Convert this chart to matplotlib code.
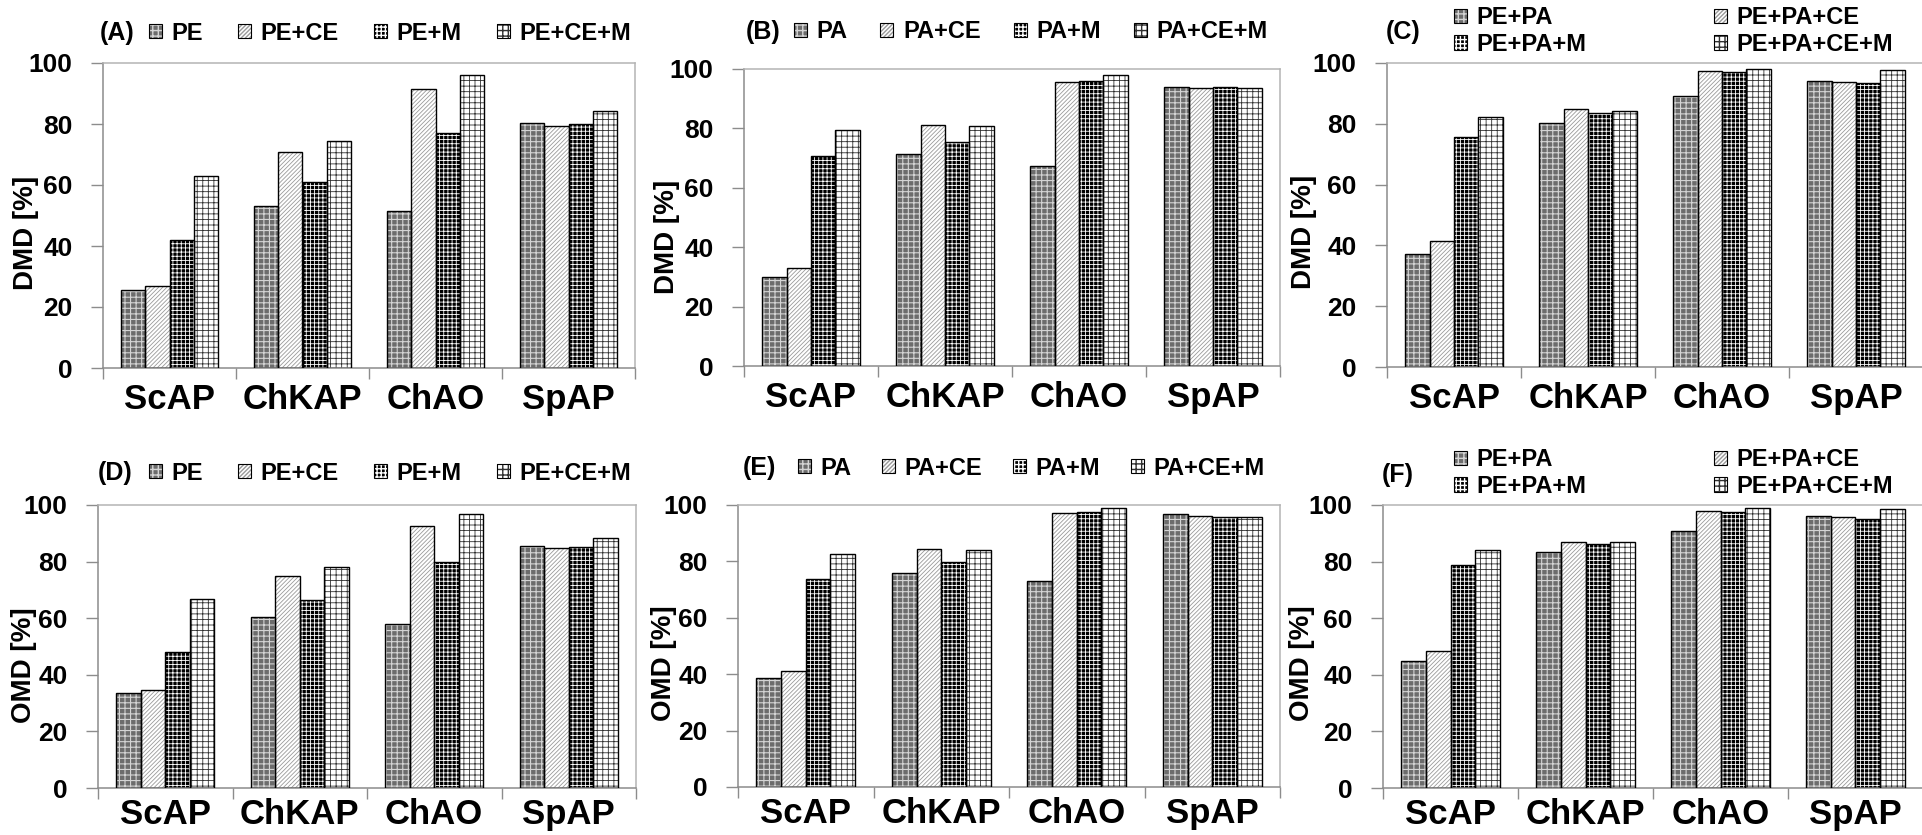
import numpy as np
import matplotlib
matplotlib.use('Agg')
import matplotlib.pyplot as plt
from matplotlib.patches import Rectangle

# ---- data ----
categories = ['ScAP', 'ChKAP', 'ChAO', 'SpAP']

names_pe = ['PE', 'PE+CE', 'PE+M', 'PE+CE+M']
names_pa = ['PA', 'PA+CE', 'PA+M', 'PA+CE+M']
names_pepa = ['PE+PA', 'PE+PA+CE', 'PE+PA+M', 'PE+PA+CE+M']

# one row per series, one column per category
dmd_pe = [[25.6, 53.1, 51.6, 80.3],
          [26.9, 70.7, 91.5, 79.3],
          [42.0, 61.1, 76.9, 79.9],
          [63.0, 74.3, 96.0, 84.2]]
dmd_pa = [[30.0, 71.3, 67.2, 94.0],
          [33.0, 81.2, 95.5, 93.5],
          [70.6, 75.3, 96.1, 93.8],
          [79.6, 80.9, 98.1, 93.5]]
dmd_pepa = [[37.1, 80.2, 89.1, 94.2],
            [41.3, 84.8, 97.4, 93.6],
            [75.6, 83.5, 96.9, 93.4],
            [82.4, 84.1, 98.0, 97.7]]
omd_pe = [[33.6, 60.3, 57.8, 85.4],
          [34.8, 75.0, 92.7, 84.7],
          [48.1, 66.6, 80.0, 85.1],
          [66.8, 78.1, 96.7, 88.4]]
omd_pa = [[38.8, 76.0, 72.9, 96.7],
          [41.3, 84.4, 97.0, 96.2],
          [73.9, 79.7, 97.6, 95.6],
          [82.7, 84.0, 99.1, 95.9]]
omd_pepa = [[44.9, 83.5, 90.9, 96.1],
            [48.5, 87.1, 98.0, 95.8],
            [78.9, 86.2, 97.6, 95.2],
            [84.1, 86.8, 99.1, 98.5]]

yticks = [0, 20, 40, 60, 80, 100]

# ---- styling ----
W, H = 1922, 835
plt.rcParams['font.family'] = ['Liberation Sans', 'DejaVu Sans']
plt.rcParams['font.weight'] = 'bold'

FRAME = '#8c8c8c'
styles = [
    dict(face='#6c6c6c', hcolor='#d4d4d4', hatch='+++', hlw=0.8),
    dict(face='white', hcolor='#9a9a9a', hatch='////////', hlw=0.6),
    dict(face='black', hcolor='white', hatch='++++', hlw=0.6),
    dict(face='white', hcolor='#303030', hatch='+++', hlw=0.6),
]


def px_rect(left, right, top, bottom):
    return [left / W, 1 - bottom / H, (right - left) / W, (bottom - top) / H]


def fx(x):
    return x / W


def fy(y):
    return 1 - y / H


def hatched(patch, lw):
    # per-patch hatch width where matplotlib supports it
    if hasattr(patch, 'set_hatch_linewidth'):
        patch.set_hatch_linewidth(lw)
    return patch


def draw_panel(fig, p):
    ax = fig.add_axes(px_rect(*p['rect']))
    x = np.arange(len(categories))
    w = 0.1825
    handles = []
    for i, (vals, st) in enumerate(zip(p['data'], styles)):
        pos = x + (i - 1.5) * w
        with plt.rc_context({'hatch.linewidth': st['hlw']}):
            bars = ax.bar(pos, vals, w, color=st['face'], edgecolor=st['hcolor'],
                          hatch=st['hatch'], linewidth=0, zorder=2)
            for b in bars:
                hatched(b, st['hlw'])
            h0 = hatched(Rectangle((0, 0), 1, 1, facecolor=st['face'], edgecolor=st['hcolor'],
                                   hatch=st['hatch'], linewidth=0), st['hlw'])
        ax.bar(pos, vals, w, fill=False, edgecolor='black', linewidth=1.0, zorder=3)
        handles.append((h0, Rectangle((0, 0), 1, 1, fill=False, edgecolor='black', linewidth=0.8)))

    ax.set_xlim(-0.5, 3.5)
    ax.set_ylim(0, 100)
    ax.set_yticks(yticks)
    ax.set_xticks([-0.5, 0.5, 1.5, 2.5, 3.5])
    ax.set_xticklabels([])
    ax.set_xticks(x, minor=True)
    ax.set_xticklabels(categories, minor=True, fontsize=25, fontweight='bold')
    ax.tick_params(axis='x', which='minor', length=0, pad=p['xpad'])
    ax.tick_params(axis='x', which='major', length=8, color=FRAME, width=1)
    ax.tick_params(axis='y', length=9, color=FRAME, width=1, labelsize=19, pad=13)
    for s in ax.spines.values():
        s.set_color(FRAME)
        s.set_linewidth(1.1)
    ax.spines['top'].set_color('#b4b4b4')
    ax.spines['right'].set_color('#b4b4b4')

    fig.text(fx(p['ylab_xy'][0]), fy(p['ylab_xy'][1]), p['ylabel'], rotation=90,
             ha='center', va='center', fontsize=20, fontweight='bold')
    fig.text(fx(p['tag_xy'][0]), fy(p['tag_xy'][1]), p['tag'],
             ha='left', va='center', fontsize=18, fontweight='bold')

    names = p['names']
    if p['ncol'] == 2:
        order = [0, 2, 1, 3]
        handles = [handles[k] for k in order]
        names = [names[k] for k in order]
    ax.legend(handles, names, loc='center left',
              bbox_to_anchor=(fx(p['leg_xy'][0]), fy(p['leg_xy'][1])),
              bbox_transform=fig.transFigure, ncol=p['ncol'], frameon=False,
              borderpad=0, borderaxespad=0, handlelength=0.55, handleheight=0.55,
              handletextpad=0.4, columnspacing=p['colsp'], labelspacing=0.15,
              prop=dict(size=17, weight='bold'))
    return ax


panels = [
    dict(tag='(A)', data=dmd_pe, names=names_pe, ylabel='DMD [%]', rect=(103, 635, 63, 368),
         xpad=11, ylab_xy=(26, 233), tag_xy=(100, 33), leg_xy=(149, 33), ncol=4, colsp=1.5),
    dict(tag='(B)', data=dmd_pa, names=names_pa, ylabel='DMD [%]', rect=(744, 1280, 69, 366),
         xpad=11, ylab_xy=(667, 237), tag_xy=(746, 32), leg_xy=(794, 32), ncol=4, colsp=1.4),
    dict(tag='(C)', data=dmd_pepa, names=names_pepa, ylabel='DMD [%]', rect=(1387, 1923, 63, 367),
         xpad=11, ylab_xy=(1304, 232), tag_xy=(1386, 32), leg_xy=(1454, 31), ncol=2, colsp=5.4),
    dict(tag='(D)', data=omd_pe, names=names_pe, ylabel='OMD [%]', rect=(98, 636, 505, 788),
         xpad=7, ylab_xy=(24, 665), tag_xy=(98, 473), leg_xy=(149, 473), ncol=4, colsp=1.5),
    dict(tag='(E)', data=omd_pa, names=names_pa, ylabel='OMD [%]', rect=(738, 1280, 505, 787),
         xpad=7, ylab_xy=(664, 663), tag_xy=(743, 468), leg_xy=(798, 468), ncol=4, colsp=1.3),
    dict(tag='(F)', data=omd_pepa, names=names_pepa, ylabel='OMD [%]', rect=(1383, 1923, 505, 788),
         xpad=7, ylab_xy=(1302, 663), tag_xy=(1382, 475), leg_xy=(1454, 473), ncol=2, colsp=5.4),
]

fig = plt.figure(figsize=(W / 100, H / 100), dpi=100)
for p in panels:
    draw_panel(fig, p)

fig.savefig('out.png', dpi=100)
